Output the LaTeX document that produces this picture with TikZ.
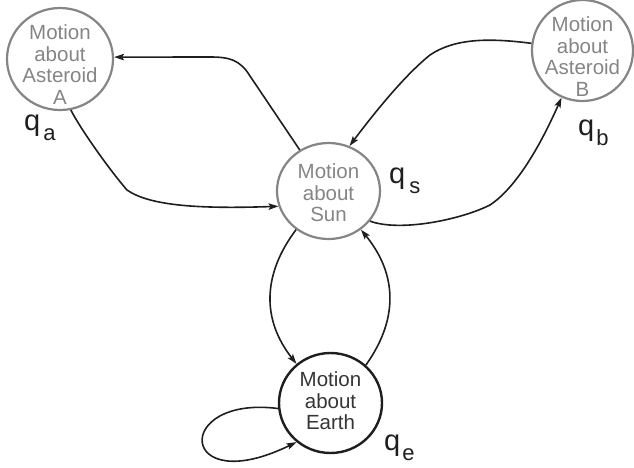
\documentclass[tikz,border=0pt]{standalone}
\usepackage{fontspec}
\setmainfont{Liberation Sans}
\usetikzlibrary{arrows.meta,shapes.geometric}

\definecolor{stategray}{HTML}{858585}
\definecolor{ink}{HTML}{1E1E1E}

% state label: a large q with a subscript
\newcommand{\qlabel}[2]{{\fontsize{29}{29}\selectfont q}\kern#2pt\raisebox{-10pt}{\fontsize{22}{22}\selectfont #1}}

\tikzset{
  outer/.style={ellipse, draw=stategray, line width=2.2pt, inner sep=0pt},
  home/.style={ellipse, draw=ink, line width=2.4pt, inner sep=0pt},
  statetext/.style={align=center, text=stategray, font=\fontsize{20.5}{21.5}\selectfont, inner sep=0pt},
  hometext/.style={align=center, text=ink!90, font=\fontsize{20.5}{21.5}\selectfont, inner sep=0pt},
  qtag/.style={anchor=base west, inner sep=0pt, text=ink},
  edge/.style={draw=ink, line width=1.6pt, -{Stealth[length=10pt,width=6.5pt,inset=2pt]}}
}

\begin{document}
\begin{tikzpicture}[x=1pt, y=-1pt]
\useasboundingbox (0,0) rectangle (634,467);

% states
\node[outer, minimum width=106pt, minimum height=102pt] (a) at (60,59) {};
\node[statetext] (ta) at (60,64.5) {Motion\\about\\Asteroid\\A};

\node[outer, minimum width=101pt, minimum height=101pt] (b) at (582.5,50.5) {};
\node[statetext] (tb) at (582.5,56.5) {Motion\\about\\Asteroid\\B};

\node[outer, minimum width=103pt, minimum height=96pt] (s) at (328.5,191) {};
\node[statetext] (ts) at (328.5,193) {Motion\\about\\Sun};

\node[home, minimum width=103pt, minimum height=100pt] (e) at (330.5,403) {};
\node[hometext] (te) at (330.5,401) {Motion\\about\\Earth};

% state names
\node[qtag] (qa) at (24,130) {\qlabel{a}{3}};
\node[qtag] (qb) at (578,135) {\qlabel{b}{2}};
\node[qtag] (qs) at (389,183) {\qlabel{s}{4}};
\node[qtag] (qe) at (384,450) {\qlabel{e}{2}};

% transitions between the sun and asteroid A
\draw[edge] (s.125) -- (250,76) .. controls (240,60) and (230,57) .. (210,57) -- (a.2);
\draw[edge] (a.-78) .. controls (80,128) and (108,168) .. (127,190)
            .. controls (150,206) and (200,209) .. (s.-163);

% transitions between the sun and asteroid B
\draw[edge] (b.172) .. controls (490,38) and (455,38) .. (430,55)
            .. controls (405,75) and (375,112) .. (s.65);
\draw[edge] (s.-36) .. controls (400,232) and (460,220) .. (490,205)
            .. controls (520,185) and (545,135) .. (b.-114);

% transitions between the sun and the earth
\draw[edge] (s.-130) .. controls (262,275) and (262,320) .. (e.131);
\draw[edge] (e.47) .. controls (398,320) and (398,275) .. (s.-50);

% staying near the earth
\draw[edge] (e.186) .. controls (172,395) and (178,500) .. (e.-131);
\end{tikzpicture}
\end{document}
